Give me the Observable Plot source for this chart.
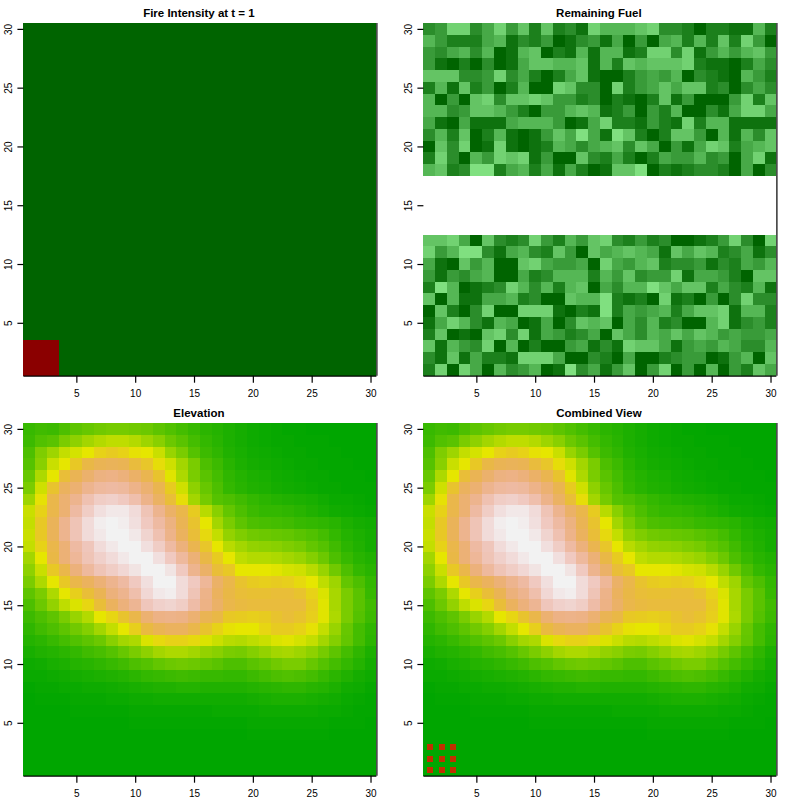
<!DOCTYPE html>
<html>
<head>
<meta charset="utf-8">
<script src="https://cdn.jsdelivr.net/npm/d3@7"></script>
<script src="https://cdn.jsdelivr.net/npm/@observablehq/plot@0.6"></script>
<style>
html,body{margin:0;padding:0;background:#fff;}
#grid{display:grid;grid-template-columns:400px 400px;grid-template-rows:400px 400px;width:800px;height:800px;}
#grid svg{display:block;}
</style>
</head>
<body>
<div id="grid"></div>
<script>
const titles = ["Fire Intensity at t = 1", "Remaining Fuel", "Elevation", "Combined View"];
const tickValues = [5, 10, 15, 20, 25, 30];
const burningCols = [1, 2, 3];
const burningRows = [1, 2, 3];
const burntOutRows = [13, 14, 15, 16, 17];

// Remaining fuel, shade 0 (dark) to 9 (light); rows 30 down to 18, then 12 down to 1
const fuelUpper = [
[3,4,8,8,3,5,8,4,7,2,7,2,3,1,8,6,6,6,7,8,3,3,2,0,2,2,1,1,6,2],
[6,4,2,2,2,5,6,1,3,2,4,0,1,3,4,1,5,0,4,0,5,6,2,6,2,7,2,8,4,0],
[4,3,5,6,3,6,0,1,6,7,0,2,1,6,1,6,6,1,2,8,8,3,8,1,4,6,4,6,7,4],
[4,1,0,2,0,3,0,1,5,7,7,6,6,7,1,6,2,7,6,7,7,7,8,2,1,1,0,2,5,3],
[7,7,7,3,3,4,8,3,5,2,0,2,5,7,1,0,0,2,4,5,4,6,0,3,2,1,0,6,4,2],
[2,6,1,7,2,4,0,2,6,0,0,8,7,3,3,0,8,2,4,5,7,5,7,7,2,3,0,3,5,3],
[6,0,4,0,7,8,3,7,7,8,7,4,4,2,3,0,2,1,0,2,7,1,4,0,0,0,4,8,2,7],
[6,6,3,4,7,7,6,4,2,0,4,4,6,7,6,1,2,4,0,4,2,6,0,0,3,1,5,8,8,5],
[5,1,0,5,1,1,1,5,6,6,6,4,0,1,5,8,2,2,1,4,2,1,8,2,6,6,1,1,1,1],
[3,6,2,7,0,2,6,1,0,1,4,7,5,9,5,1,9,7,2,0,2,7,7,4,0,6,1,6,3,7],
[0,7,3,8,0,1,8,1,0,1,2,6,5,3,5,6,7,3,7,5,0,4,1,5,8,7,2,5,6,7],
[2,8,3,0,6,4,8,7,8,1,4,0,0,7,3,2,5,2,0,2,5,4,4,6,3,4,0,5,8,1],
[6,7,2,3,9,9,2,5,6,2,5,1,5,2,0,1,7,7,9,0,2,1,2,3,3,2,0,5,0,3]
];
const fuelLower = [
[7,7,8,5,0,7,3,2,3,8,4,2,6,4,7,8,3,2,4,2,3,0,0,1,2,4,8,3,0,8],
[8,4,6,9,9,3,1,5,6,3,2,7,4,0,7,5,6,7,6,5,1,7,5,7,6,2,3,5,1,3],
[5,1,0,7,4,6,0,0,7,8,5,4,4,5,0,8,5,4,6,7,2,3,3,4,1,3,2,5,4,6],
[4,1,4,3,5,6,0,0,5,2,3,6,6,6,2,6,4,7,3,4,4,8,1,5,5,4,2,0,7,7],
[2,9,6,0,1,2,3,8,6,3,6,2,6,7,0,5,3,6,6,9,7,5,7,7,2,5,3,2,6,1],
[7,0,6,1,1,5,5,6,2,3,0,0,7,6,6,9,2,1,2,0,8,1,2,0,4,0,3,8,3,3],
[0,7,2,0,3,8,0,0,8,8,8,1,0,2,1,9,2,5,4,5,6,2,5,7,7,8,1,6,6,2],
[1,5,8,6,3,1,6,5,0,1,5,0,3,7,6,7,0,5,3,6,2,3,0,0,6,8,1,3,4,2],
[2,7,0,1,0,7,8,3,8,1,5,4,2,3,5,0,7,5,3,6,5,7,5,7,6,4,5,4,4,5],
[7,1,6,4,3,8,0,6,0,2,0,0,4,5,1,3,1,8,7,7,5,1,4,5,4,6,5,3,3,6],
[3,1,7,1,5,2,2,1,8,8,8,5,0,0,3,2,0,5,0,0,2,3,4,4,0,1,4,6,0,7],
[2,8,0,8,5,0,6,3,4,6,0,1,9,3,5,1,4,7,0,4,8,0,4,0,6,0,4,2,7,5]
];

// Elevation in percent of the terrain palette; rows 30 down to 1
const elevationRows = [
[15,17,16,20,24,26,28,29,29,28,27,24,21,18,15,12,10,8,6,4,3,2,1,1,0,0,0,0,0,0],
[16,21,23,30,34,38,41,43,43,41,37,33,27,23,18,14,11,8,6,4,3,2,2,1,1,1,0,0,0,0],
[20,31,37,44,47,50,55,57,55,51,50,45,36,30,22,16,13,9,7,5,4,3,2,2,1,1,1,0,0,0],
[22,33,45,50,58,65,68,69,68,63,59,52,46,38,30,20,16,11,8,6,5,4,3,2,2,1,1,1,0,0],
[26,40,50,62,68,73,77,78,76,72,67,60,49,40,30,23,18,13,10,8,7,5,4,3,2,2,1,1,1,0],
[30,46,60,70,74,80,83,84,83,79,74,67,57,46,34,26,20,14,11,9,8,6,5,4,3,2,2,1,1,1],
[37,51,66,74,80,87,91,92,90,86,79,71,62,52,38,29,22,20,17,14,12,10,9,8,7,5,3,3,2,1],
[45,55,66,74,84,91,96,98,98,95,88,80,72,66,57,42,33,25,20,16,14,14,13,11,9,7,5,4,3,2],
[44,58,69,80,88,95,99,100,99,96,90,84,77,68,60,50,38,30,24,20,19,18,17,15,14,13,11,8,6,5],
[45,58,69,80,88,95,98,100,100,98,93,87,79,70,62,53,44,35,31,28,27,26,25,23,21,18,14,10,8,6],
[44,55,66,75,84,89,95,98,100,100,96,91,84,76,67,59,50,42,38,35,34,33,31,29,25,22,17,12,9,6],
[38,50,65,75,82,88,92,95,98,100,100,96,90,83,75,65,57,50,43,41,41,40,38,36,32,27,20,15,11,9],
[34,45,58,66,76,83,88,91,94,97,100,100,97,90,80,72,62,58,50,50,50,49,47,46,42,36,28,20,14,11],
[30,40,50,58,66,70,75,80,84,90,96,100,100,95,90,82,72,66,60,57,56,57,56,53,50,43,37,25,20,14],
[24,30,40,50,56,62,68,76,80,86,94,98,99,95,88,79,70,65,62,61,61,62,62,60,55,48,39,30,23,15],
[20,27,35,43,48,54,62,70,76,81,89,92,93,91,85,78,72,66,64,63,63,63,63,63,57,49,39,30,23,17],
[16,20,24,30,36,41,50,54,60,66,74,78,79,78,74,68,65,58,57,56,57,60,62,60,56,49,40,30,22,16],
[13,17,20,24,28,32,38,44,50,56,64,68,70,70,66,60,55,51,50,50,54,57,57,55,51,44,36,26,18,13],
[10,12,15,18,21,24,27,33,38,40,48,53,55,55,53,48,45,42,41,43,45,48,49,47,44,38,32,25,18,12],
[7,9,10,12,14,17,19,22,26,30,34,38,40,40,38,35,33,30,29,32,35,38,39,37,34,29,24,18,13,8],
[4,5,7,8,10,11,13,15,17,20,22,25,27,28,27,25,23,20,20,23,25,28,30,30,26,22,18,14,10,6],
[3,3,4,5,6,7,8,9,10,12,14,15,16,17,16,15,15,14,14,16,18,20,21,20,18,15,12,9,6,4],
[1,2,2,3,3,4,4,5,6,7,8,9,9,10,10,9,9,9,9,10,11,12,13,13,11,10,8,5,4,2],
[0,1,1,1,2,2,2,3,3,4,4,5,5,5,5,5,5,5,5,6,7,8,8,8,7,6,5,3,2,1],
[0,0,0,0,1,1,1,1,1,2,2,2,2,2,2,2,3,3,3,3,4,4,4,4,4,3,3,2,1,1],
[0,0,0,0,0,0,0,0,0,1,1,1,1,1,1,1,1,1,1,2,2,2,2,2,2,2,1,1,1,0],
[0,0,0,0,0,0,0,0,0,0,0,0,0,0,0,0,0,0,0,1,1,1,1,1,1,1,0,0,0,0],
[0,0,0,0,0,0,0,0,0,0,0,0,0,0,0,0,0,0,0,0,0,0,0,0,0,0,0,0,0,0],
[0,0,0,0,0,0,0,0,0,0,0,0,0,0,0,0,0,0,0,0,0,0,0,0,0,0,0,0,0,0],
[0,0,0,0,0,0,0,0,0,0,0,0,0,0,0,0,0,0,0,0,0,0,0,0,0,0,0,0,0,0]
];

function hsv(h, s, v) {
  const f = n => { const k = (n + h / 60) % 6; return Math.round(255 * (v - v * s * Math.max(0, Math.min(k, 4 - k, 1)))); };
  return `rgb(${f(5)},${f(3)},${f(1)})`;
}
// R terrain.colors ramp
function terrain(t) {
  return t <= 0.5
    ? hsv(120 - 120 * t, 1, 0.65 + 0.5 * t)
    : hsv(60 - 60 * (t - 0.5) * 2, 1 - (t - 0.5) * 2, 0.9 + 0.05 * (t - 0.5) * 2);
}

const cols = d3.range(1, 31);
const rows = d3.range(1, 31);
const fireCells = rows.flatMap(y => cols.map(x => ({x, y, on: burningCols.includes(x) && burningRows.includes(y) ? 1 : 0})));
const fuelCells = [
  ...fuelUpper.flatMap((r, i) => r.map((v, j) => ({x: j + 1, y: 30 - i, v}))),
  ...fuelLower.flatMap((r, i) => r.map((v, j) => ({x: j + 1, y: 12 - i, v})))
].filter(d => !burntOutRows.includes(d.y));
const elevCells = elevationRows.flatMap((r, i) => r.map((v, j) => ({x: j + 1, y: 30 - i, v})));
const fireDots = burningRows.flatMap(y => burningCols.map(x => ({x, y})));

function panel(title, colorOpts, cells, fillKey, extra) {
  return Plot.plot({
    width: 400, height: 400,
    marginLeft: 23.4, marginRight: 23.6, marginTop: 23, marginBottom: 24.3,
    style: {background: "#fff", color: "#000", fontFamily: "'Liberation Sans', Arial, sans-serif", fontSize: "10px"},
    x: {domain: [0.5, 30.5]},
    y: {domain: [0.5, 30.5]},
    color: colorOpts,
    marks: [
      Plot.rect(cells, {
        x1: d => d.x - 0.5, x2: d => d.x + 0.5,
        y1: d => d.y - 0.5, y2: d => d.y + 0.5,
        fill: fillKey, shapeRendering: "crispEdges"
      }),
      ...(extra || []),
      Plot.ruleX([30.5], {stroke: "#000", strokeWidth: 1.2}),
      Plot.ruleY([0.5], {stroke: "#000", strokeWidth: 1.2}),
      Plot.axisX({ticks: tickValues, tickSize: 7, tickPadding: 7, label: null, tickFormat: d => d, stroke: "#000", strokeWidth: 1.2, fontSize: 10}),
      Plot.axisY({ticks: tickValues, tickSize: 6, tickPadding: 6, label: null, tickFormat: d => d, tickRotate: -90, stroke: "#000", strokeWidth: 1.2, fontSize: 10}),
      Plot.text([title], {frameAnchor: "top", dx: -1.5, dy: -14.5, fontWeight: "bold", fontSize: 11.5, text: d => d, fill: "#000"})
    ]
  });
}

const terrainColor = {type: "linear", domain: [0, 100], interpolate: terrain};
const grid = document.getElementById("grid");
grid.append(
  panel(titles[0], {type: "linear", domain: [0, 1], range: ["#006400", "#8B0000"]}, fireCells, "on"),
  panel(titles[1], {type: "linear", domain: [0, 9], range: ["#006400", "#80E080"]}, fuelCells, "v"),
  panel(titles[2], terrainColor, elevCells, "v"),
  panel(titles[3], terrainColor, elevCells, "v", [
    Plot.dot(fireDots, {x: "x", y: "y", symbol: "square", r: 3.4, fill: "#C03000", stroke: "none", shapeRendering: "crispEdges"})
  ])
);
</script>
</body>
</html>
